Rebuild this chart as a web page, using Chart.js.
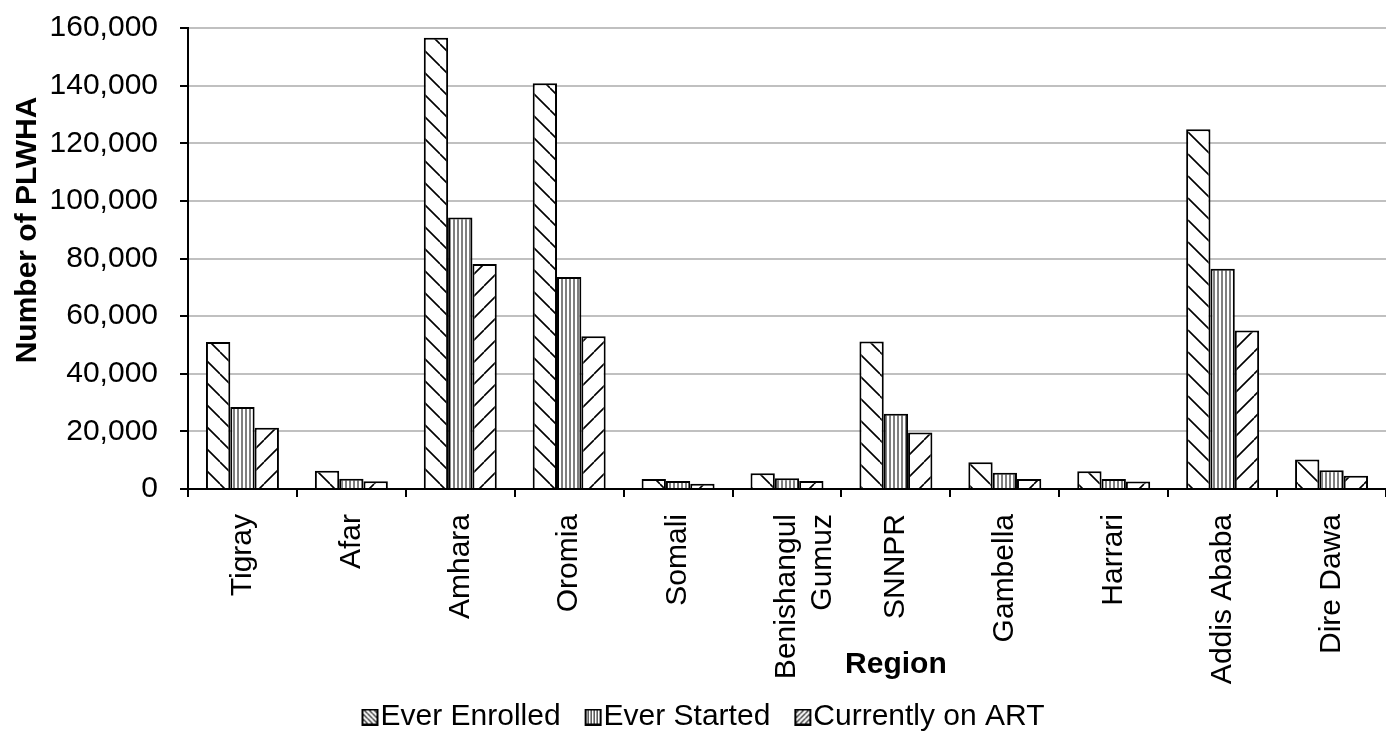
<!DOCTYPE html>
<html>
<head>
<meta charset="utf-8">
<title>PLWHA by region</title>
<script src="https://cdn.jsdelivr.net/npm/chart.js@4/dist/chart.umd.min.js"></script>
<style>
  html, body { margin: 0; padding: 0; background: #fff; }
  #wrap { width: 1386px; height: 735px; position: relative; }
</style>
</head>
<body>
<div id="wrap"><canvas id="plwhaChart"></canvas></div>
<script>
    // Regions and counts
    const regions = ['Tigray', 'Afar', 'Amhara', 'Oromia', 'Somali', ['Benishangul', 'Gumuz'],
        'SNNPR', 'Gambella', 'Harrari', 'Addis Ababa', 'Dire Dawa'];
    const everEnrolled = [51000, 6300, 156600, 140800, 3500, 5500, 51200, 9300, 6200, 124900, 10200];
    const everStarted = [28500, 3600, 94200, 73600, 2800, 3700, 26100, 5600, 3500, 76400, 6500];
    const currentlyOnArt = [21300, 2700, 78100, 53000, 1800, 2800, 19600, 3500, 2600, 55000, 4600];
    const yTicks = [0, 20000, 40000, 60000, 80000, 100000, 120000, 140000, 160000];

    const FONT = '"Liberation Sans", Arial, sans-serif';

    // hatch patterns, kind: 'back' (\), 'fwd' (/), 'vert' (|)
    function hatchTile(kind, size, lw) {
        const c = document.createElement('canvas');
        c.width = size;
        c.height = size;
        const g = c.getContext('2d');
        g.fillStyle = '#fff';
        g.fillRect(0, 0, size, size);
        g.strokeStyle = '#000';
        g.lineWidth = lw;
        g.beginPath();
        if (kind === 'vert') {
            g.moveTo(size / 2, 0);
            g.lineTo(size / 2, size);
        } else {
            for (const k of [-size, 0, size]) {
                if (kind === 'back') {
                    g.moveTo(k, 0);
                    g.lineTo(k + size, size);
                } else {
                    g.moveTo(k, size);
                    g.lineTo(k + size, 0);
                }
            }
        }
        g.stroke();
        return c;
    }

    function hatch(kind, size, lw) {
        return document.createElement('canvas').getContext('2d')
            .createPattern(hatchTile(kind, size, lw), 'repeat');
    }

    // legend swatch: a 16px hatched box at the right end of a wider
    // transparent image, so the text follows it closely
    function swatch(kind, size, lw) {
        const c = document.createElement('canvas');
        c.width = 52;
        c.height = 17;
        const g = c.getContext('2d');
        g.fillStyle = g.createPattern(hatchTile(kind, size, lw), 'repeat');
        g.fillRect(35, 1, 15, 15);
        g.strokeStyle = '#000';
        g.lineWidth = 2;
        g.strokeRect(35, 1, 15, 15);
        return c;
    }

    document.addEventListener('DOMContentLoaded', function() {
        const ctx = document.getElementById('plwhaChart').getContext('2d');

        const barFills = [hatch('back', 22, 1.6), hatch('vert', 4, 1), hatch('fwd', 22, 1.6)];
        const legendIcons = [swatch('back', 5, 1.2), swatch('vert', 3, 1), swatch('fwd', 5, 1.2)];

        // axis titles are placed like in the original: "Region" over the tick labels,
        // the y title a bit above the middle of the axis
        const axisTitles = {
            id: 'axisTitles',
            afterDraw(chart) {
                const x = chart.scales.x;
                const area = chart.chartArea;
                const c = chart.ctx;
                c.save();
                c.font = 'bold 30px ' + FONT;
                c.fillStyle = '#000';
                c.textAlign = 'center';
                c.textBaseline = 'middle';
                c.fillText('Region', x.getPixelForValue(6), area.bottom + 176);
                c.translate(area.left - 160, area.top + 202);
                c.rotate(-Math.PI / 2);
                c.fillText('Number of PLWHA', 0, 0);
                c.restore();
            }
        };

        function barSet(label, data, i) {
            return {
                label: label,
                data: data,
                backgroundColor: barFills[i],
                borderColor: '#000',
                borderWidth: 2,
                categoryPercentage: 0.67,
                barPercentage: 1.0
            };
        }

        new Chart(ctx, {
            type: 'bar',
            data: {
                labels: regions,
                datasets: [
                    barSet('Ever Enrolled', everEnrolled, 0),
                    barSet('Ever Started', everStarted, 1),
                    barSet('Currently on ART', currentlyOnArt, 2)
                ]
            },
            options: {
                responsive: true,
                maintainAspectRatio: false,
                animation: false,
                layout: { padding: { top: 28, left: 0, right: 0, bottom: -7 } },
                plugins: {
                    tooltip: { enabled: false },
                    legend: {
                        position: 'bottom',
                        labels: {
                            font: { family: FONT, size: 30 },
                            color: '#000',
                            usePointStyle: true,
                            pointStyleWidth: 24,
                            boxHeight: 18,
                            padding: 4,
                            generateLabels(chart) {
                                return chart.data.datasets.map((ds, i) => ({
                                    text: ds.label,
                                    pointStyle: legendIcons[i],
                                    fillStyle: '#fff',
                                    strokeStyle: '#000',
                                    lineWidth: 0,
                                    datasetIndex: i,
                                    hidden: false
                                }));
                            }
                        }
                    }
                },
                scales: {
                    x: {
                        afterFit(axis) {
                            axis.height = 209;
                            axis.paddingLeft = 0;
                            axis.paddingRight = 0;
                        },
                        grid: {
                            drawOnChartArea: false,
                            drawTicks: true,
                            tickLength: 8,
                            tickColor: '#000',
                            lineWidth: 2
                        },
                        border: { color: '#000', width: 2 },
                        ticks: {
                            autoSkip: false,
                            minRotation: 90,
                            maxRotation: 90,
                            padding: 17,
                            color: '#000',
                            font: { family: FONT, size: 30 }
                        }
                    },
                    y: {
                        min: 0,
                        max: 160000,
                        afterBuildTicks(axis) {
                            axis.ticks = yTicks.map(v => ({ value: v }));
                        },
                        afterFit(axis) {
                            axis.width = 188;
                            axis.paddingTop = 0;
                            axis.paddingBottom = 0;
                        },
                        grid: {
                            color: '#c0c0c0',
                            lineWidth: 2,
                            tickColor: '#000',
                            tickLength: 8
                        },
                        border: { color: '#000', width: 2 },
                        ticks: {
                            padding: 22,
                            color: '#000',
                            font: { family: FONT, size: 30 },
                            callback: v => v.toLocaleString('en-US')
                        }
                    }
                }
            },
            plugins: [axisTitles]
        });
    });
</script>
</body>
</html>
